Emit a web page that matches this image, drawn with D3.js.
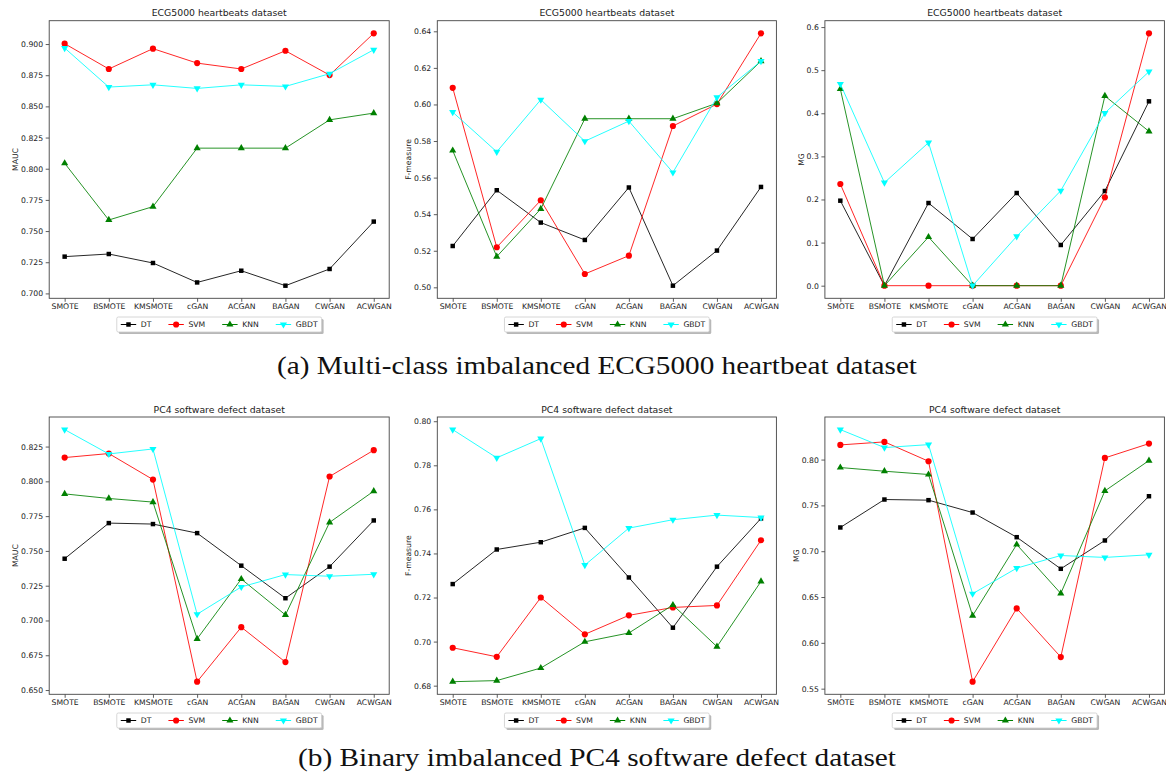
<!DOCTYPE html>
<html><head><meta charset="utf-8">
<script src="https://cdn.jsdelivr.net/npm/d3@7"></script>
<style>
body{margin:0;background:#fff}
svg text{font-family:"DejaVu Sans",sans-serif}
</style>
</head><body>
<svg id="c" width="1166" height="778"></svg>
<script>
const categories = ["SMOTE","BSMOTE","KMSMOTE","cGAN","ACGAN","BAGAN","CWGAN","ACWGAN"];
const classifiers = ["DT","SVM","KNN","GBDT"];

// (a) ECG5000 heartbeats dataset
const ecgMaucDT   = [0.7295,0.7316,0.7244,0.7088,0.7182,0.7062,0.7196,0.7576];
const ecgMaucSVM  = [0.9003,0.8800,0.8963,0.8847,0.8800,0.8946,0.8751,0.9086];
const ecgMaucKNN  = [0.8044,0.7589,0.7696,0.8165,0.8165,0.8165,0.8392,0.8446];
const ecgMaucGBDT = [0.8968,0.8655,0.8673,0.8644,0.8673,0.8660,0.8762,0.8954];

const ecgFDT   = [0.5226,0.5531,0.5354,0.5259,0.5546,0.5009,0.5201,0.5549];
const ecgFSVM  = [0.6091,0.5219,0.5476,0.5073,0.5173,0.5882,0.6002,0.6389];
const ecgFKNN  = [0.5748,0.5168,0.5429,0.5922,0.5922,0.5922,0.6007,0.6237];
const ecgFGBDT = [0.5958,0.5741,0.6026,0.5799,0.5909,0.5628,0.6039,0.6237];

const ecgMgDT   = [0.1972,0.0,0.1918,0.1083,0.2150,0.0944,0.2196,0.4277];
const ecgMgSVM  = [0.2359,0.0,0.0,0.0,0.0,0.0,0.2050,0.5855];
const ecgMgKNN  = [0.4563,0.0,0.1129,0.0,0.0,0.0,0.4401,0.3581];
const ecgMgGBDT = [0.4679,0.2390,0.3318,0.0,0.1145,0.2204,0.4006,0.4965];

// (b) PC4 software defect dataset
const pc4MaucDT   = [0.7444,0.7700,0.7693,0.7628,0.7394,0.7160,0.7387,0.7719];
const pc4MaucSVM  = [0.8171,0.8200,0.8013,0.6560,0.6952,0.6701,0.8035,0.8224];
const pc4MaucKNN  = [0.7910,0.7877,0.7851,0.6868,0.7298,0.7040,0.7705,0.7930];
const pc4MaucGBDT = [0.8372,0.8197,0.8233,0.7045,0.7241,0.7330,0.7318,0.7332];

const pc4FDT   = [0.7261,0.7418,0.7451,0.7516,0.7291,0.7063,0.7340,0.7559];
const pc4FSVM  = [0.6972,0.6931,0.7200,0.7033,0.7119,0.7155,0.7164,0.7460];
const pc4FKNN  = [0.6818,0.6823,0.6880,0.6999,0.7039,0.7166,0.6977,0.7273];
const pc4FGBDT = [0.7962,0.7834,0.7921,0.7347,0.7515,0.7553,0.7574,0.7563];

const pc4MgDT   = [0.7259,0.7564,0.7557,0.7422,0.7153,0.6808,0.7117,0.7600];
const pc4MgSVM  = [0.8160,0.8193,0.7982,0.5576,0.6376,0.5845,0.8018,0.8174];
const pc4MgKNN  = [0.7913,0.7873,0.7837,0.6296,0.7073,0.6539,0.7658,0.7989];
const pc4MgGBDT = [0.8327,0.8131,0.8163,0.6536,0.6815,0.6953,0.6932,0.6961];

// y tick values
const maucTicksA = [0.700,0.725,0.750,0.775,0.800,0.825,0.850,0.875,0.900];
const fTicksA    = [0.50,0.52,0.54,0.56,0.58,0.60,0.62,0.64];
const mgTicksA   = [0.0,0.1,0.2,0.3,0.4,0.5,0.6];
const maucTicksB = [0.650,0.675,0.700,0.725,0.750,0.775,0.800,0.825];
const fTicksB    = [0.68,0.70,0.72,0.74,0.76,0.78,0.80];
const mgTicksB   = [0.55,0.60,0.65,0.70,0.75,0.80];

const titles = ["ECG5000 heartbeats dataset","PC4 software defect dataset"];
const ylabels = ["MAUC","F-measure","MG"];
const captions = ["(a) Multi-class imbalanced ECG5000 heartbeat dataset","(b) Binary imbalanced PC4 software defect dataset"];

// styles
const colors = {DT:"#000000", SVM:"#ff0000", KNN:"#008000", GBDT:"#00ffff"};
const symbols = {DT:d3.symbolSquare, SVM:d3.symbolCircle, KNN:d3.symbolTriangle, GBDT:"down"};
const symSize = {DT:20, SVM:30, KNN:22, GBDT:22};

const colsX = [[49.2,389.2],[437.3,776.4],[824.9,1164.4]];
const rowsY = [[20.7,298.3],[417.0,694.3]];
const FS = 7.7;

const panels = [
  {row:0,col:0,title:titles[0],ylabel:ylabels[0],data:[ecgMaucDT,ecgMaucSVM,ecgMaucKNN,ecgMaucGBDT],ticks:maucTicksA,fmt:".3f"},
  {row:0,col:1,title:titles[0],ylabel:ylabels[1],data:[ecgFDT,ecgFSVM,ecgFKNN,ecgFGBDT],ticks:fTicksA,fmt:".2f"},
  {row:0,col:2,title:titles[0],ylabel:ylabels[2],data:[ecgMgDT,ecgMgSVM,ecgMgKNN,ecgMgGBDT],ticks:mgTicksA,fmt:".1f"},
  {row:1,col:0,title:titles[1],ylabel:ylabels[0],data:[pc4MaucDT,pc4MaucSVM,pc4MaucKNN,pc4MaucGBDT],ticks:maucTicksB,fmt:".3f"},
  {row:1,col:1,title:titles[1],ylabel:ylabels[1],data:[pc4FDT,pc4FSVM,pc4FKNN,pc4FGBDT],ticks:fTicksB,fmt:".2f"},
  {row:1,col:2,title:titles[1],ylabel:ylabels[2],data:[pc4MgDT,pc4MgSVM,pc4MgKNN,pc4MgGBDT],ticks:mgTicksB,fmt:".2f"}
];

const svg = d3.select("#c");

function symPath(name){
  if (symbols[name] === "down") {
    return d3.symbol().type(d3.symbolTriangle).size(symSize[name])();
  }
  return d3.symbol().type(symbols[name]).size(symSize[name])();
}
function symTransform(name){ return symbols[name] === "down" ? " rotate(180)" : ""; }

panels.forEach(p => {
  const [x0,x1] = colsX[p.col];
  const [y0,y1] = rowsY[p.row];
  const all = p.data.flat();
  const mn = d3.min(all), mx = d3.max(all), r = mx - mn;
  const x = d3.scalePoint().domain(categories).range([x0,x1]).padding(0.35);
  const y = d3.scaleLinear().domain([mn - 0.05*r, mx + 0.05*r]).range([y1,y0]);
  const g = svg.append("g");

  // axes
  const xa = g.append("g").attr("transform",`translate(0,${y1})`)
    .call(d3.axisBottom(x).tickSize(3.5).tickPadding(2.2));
  const ya = g.append("g").attr("transform",`translate(${x0},0)`)
    .call(d3.axisLeft(y).tickValues(p.ticks).tickFormat(d3.format(p.fmt)).tickSize(3.5).tickPadding(2.6));
  [xa,ya].forEach(a => {
    a.select(".domain").remove();
    a.selectAll("line").attr("stroke","#333").attr("stroke-width",0.8);
    a.selectAll("text").attr("font-size",FS).attr("fill","#222").attr("font-family","DejaVu Sans");
  });

  // frame
  g.append("rect").attr("x",x0).attr("y",y0).attr("width",x1-x0).attr("height",y1-y0)
    .attr("fill","none").attr("stroke","#444").attr("stroke-width",0.9);

  // title
  g.append("text").attr("x",(x0+x1)/2).attr("y",y0-4.5).attr("text-anchor","middle")
    .attr("font-size",9.3).attr("fill","#222").text(p.title);

  // y label (bbox is in the axis group's local coordinates)
  const bb = ya.node().getBBox();
  const lx = x0 + bb.x - 5.5;
  g.append("text").attr("transform",`translate(${lx},${(y0+y1)/2}) rotate(-90)`)
    .attr("text-anchor","middle").attr("dy","0.35em").attr("font-size",FS).attr("fill","#222").text(p.ylabel);

  // series
  const line = d3.line().x((d,i)=>x(categories[i])).y(d=>y(d));
  classifiers.forEach((c,si) => {
    const vals = p.data[si];
    g.append("path").attr("d",line(vals)).attr("fill","none")
      .attr("stroke",colors[c]).attr("stroke-width",1).attr("stroke-opacity",0.85);
    g.append("g").selectAll("path").data(vals).join("path")
      .attr("d",symPath(c))
      .attr("transform",(d,i)=>`translate(${x(categories[i])},${y(d)})${symTransform(c)}`)
      .attr("fill",colors[c]);
  });

  // legend
  const lg = g.append("g");
  const handle = 15.4, gap = 4.6, colSp = 17, pad = 4;
  let widths = [];
  const tmp = lg.append("g");
  classifiers.forEach(c => {
    const t = tmp.append("text").attr("font-size",FS).text(c);
    widths.push(t.node().getComputedTextLength());
  });
  tmp.remove();
  const totalW = pad*2 + classifiers.length*(handle+gap) + d3.sum(widths) + (classifiers.length-1)*colSp;
  const lx0 = (x0+x1)/2 - totalW/2, ly0 = y1 + 18.7, lh = 15;
  lg.append("rect").attr("x",lx0+2).attr("y",ly0+2).attr("width",totalW).attr("height",lh)
    .attr("rx",1.5).attr("fill","#888").attr("opacity",0.6);
  lg.append("rect").attr("x",lx0).attr("y",ly0).attr("width",totalW).attr("height",lh)
    .attr("rx",1.5).attr("fill","#fff").attr("stroke","#ccc").attr("stroke-width",0.8);
  let cx = lx0 + pad;
  const cy = ly0 + lh/2;
  classifiers.forEach((c,i) => {
    lg.append("line").attr("x1",cx).attr("x2",cx+handle).attr("y1",cy).attr("y2",cy)
      .attr("stroke",colors[c]).attr("stroke-width",1);
    lg.append("path").attr("d",symPath(c))
      .attr("transform",`translate(${cx+handle/2},${cy})${symTransform(c)}`).attr("fill",colors[c]);
    lg.append("text").attr("x",cx+handle+gap).attr("y",cy).attr("dy","0.35em")
      .attr("font-size",FS).attr("fill","#222").text(c);
    cx += handle + gap + widths[i] + colSp;
  });
});

// captions
const capY = [374, 766];
const capW = [640, 598];
captions.forEach((t,i) => {
  svg.append("text").attr("x",597).attr("y",capY[i]).attr("text-anchor","middle")
    .style("font-family","'Liberation Serif', 'DejaVu Serif', serif")
    .attr("font-size",26).attr("fill","#111")
    .attr("textLength",capW[i]).attr("lengthAdjust","spacingAndGlyphs")
    .text(t);
});
</script>
</body></html>
